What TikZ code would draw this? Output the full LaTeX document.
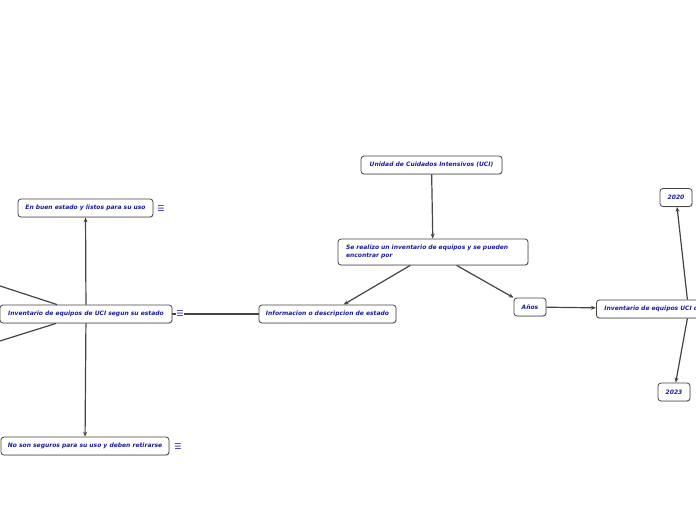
\documentclass[tikz,border=0pt]{standalone}
\usepackage{fontspec}
\usepackage{xcolor}
\usepackage{tikz}
\usetikzlibrary{arrows.meta, positioning, shadows}
\newfontfamily\mapfont{DejaVu Sans}
\definecolor{mapblue}{HTML}{1A1AA6}
\definecolor{mapgray}{HTML}{444444}

\begin{document}
\begin{tikzpicture}[x=1pt, y=-1pt,
    topic/.style={draw=mapgray, fill=white, rounded corners=3pt, line width=0.8pt,
                  minimum height=18pt, inner sep=0pt, text=mapblue,
                  font=\mapfont\bfseries\itshape\fontsize{6}{8}\selectfont,
                  drop shadow={opacity=0.25, shadow xshift=0.6pt, shadow yshift=-0.9pt}},
    link/.style={-{Stealth[length=5pt, width=4pt]}, mapgray, line width=1.2pt},
    note/.style={font=\mapfont\fontsize{8}{8}\selectfont, text=mapblue, fill=white, inner sep=0.6pt},
]
    \useasboundingbox (0,0) rectangle (696,520);
    \clip (0,0) rectangle (696,520);

    % Centre
    \node[topic, minimum width=141pt] (uci) at (431.5,165) {Unidad de Cuidados Intensivos (UCI)};
    \node[topic, minimum height=26pt, text width=174pt, inner xsep=8pt, align=left] (inv) at (433,252)
        {Se realizo un inventario de equipos y se pueden\\encontrar por};
    \node[topic, minimum width=137pt] (info) at (327.5,314) {Informacion o descripcion de estado};
    \node[topic, minimum width=32pt] (anos) at (530,307) {Años};

    % Left branch
    \node[topic, minimum width=172pt] (estado) at (86,314) {Inventario de equipos de UCI segun su estado};
    \node[topic, minimum width=135pt] (buen) at (85.5,208) {En buen estado y listos para su uso};
    \node[topic, minimum width=168pt] (noseg) at (85,446) {No son seguros para su uso y deben retirarse};
    \coordinate (offup) at (-10,282.7);
    \coordinate (offdown) at (-10,344.1);

    % Right branch
    \node[topic, anchor=west, text width=166pt, inner xsep=8pt, align=left] (uciyears) at (596,309)
        {Inventario de equipos UCI de};
    \node[topic, minimum width=32pt] (y2020) at (676,197.5) {2020};
    \node[topic, minimum width=32pt] (y2023) at (674,392) {2023};

    % Connectors
    \draw[link] (uci) -- (inv);
    \draw[link] (inv) -- (info);
    \draw[link] (inv) -- (anos);
    \draw[mapgray, line width=1.2pt] (info) -- (estado);
    \draw[link] (estado) -- (buen);
    \draw[link] (estado) -- (noseg);
    \draw[mapgray, line width=1.2pt] (estado) -- (offup);
    \draw[mapgray, line width=1.2pt] (estado) -- (offdown);
    \draw[link] (anos) -- (uciyears);
    \draw[link] (uciyears.north) -- (y2020);
    \draw[link] (uciyears.south) -- (y2023);

    % Notes
    \node[note] (estadonote) at (180,314) {☰};
    \node[note] (buennote) at (161,209) {☰};
    \node[note] (nosegnote) at (178,447) {☰};
\end{tikzpicture}
\end{document}
